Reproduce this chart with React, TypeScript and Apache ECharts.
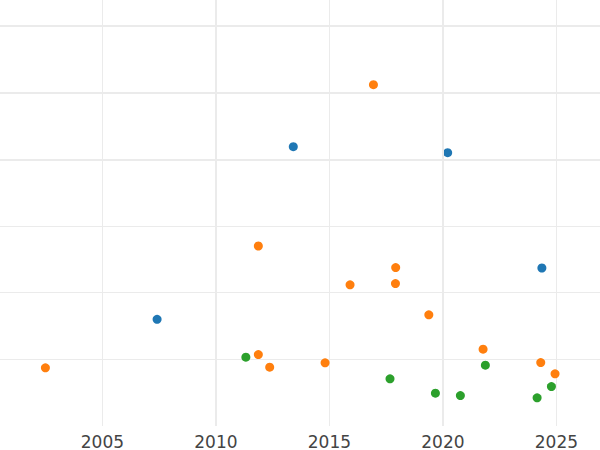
import React, { useEffect, useRef } from "react";
import * as echarts from "echarts";

const blueSeries: [number, number][] = [
  [2013.41, 4.19],
  [2020.21, 4.1],
  [2007.41, 1.6],
  [2024.36, 2.37],
];

const orangeSeries: [number, number][] = [
  [2016.94, 5.12],
  [2011.87, 2.7],
  [2002.49, 0.873],
  [2011.87, 1.072],
  [2012.37, 0.882],
  [2014.81, 0.948],
  [2015.91, 2.118],
  [2017.92, 2.377],
  [2017.91, 2.137],
  [2019.38, 1.668],
  [2021.77, 1.152],
  [2024.31, 0.952],
  [2024.94, 0.783],
];

const greenSeries: [number, number][] = [
  [2011.32, 1.032],
  [2017.67, 0.708],
  [2019.67, 0.492],
  [2020.77, 0.457],
  [2021.87, 0.912],
  [2024.15, 0.423],
  [2024.78, 0.592],
];

const majorGridYears = [2010, 2020];
const majorGridValues = [4, 5, 6];

const X_MIN = 2000.49;
const X_MAX = 2026.92;
const Y_MIN = 0;
const Y_MAX = 6.39;

const GRID_COLOR = "#ebebeb";

export default function App() {
  const ref = useRef<HTMLDivElement>(null);

  useEffect(() => {
    if (!ref.current) return;
    const chart = echarts.init(ref.current, undefined, { renderer: "svg" });
    const dot = (name: string, color: string, data: [number, number][]) => ({
      name,
      type: "scatter",
      data,
      symbol: "circle",
      symbolSize: 9,
      itemStyle: { color, opacity: 1 },
      z: 3,
    });
    chart.setOption({
      animation: false,
      backgroundColor: "#ffffff",
      grid: { left: 0, right: 0, top: 0, bottom: 24, containLabel: false },
      xAxis: {
        type: "value",
        min: X_MIN,
        max: X_MAX,
        splitNumber: 5,
        axisLine: { show: false },
        axisTick: { show: false },
        axisLabel: {
          show: true,
          showMinLabel: false,
          showMaxLabel: false,
          color: "#444444",
          fontFamily: "DejaVu Sans",
          fontSize: 17,
          margin: 7,
          formatter: (v: number) => String(Math.round(v)),
        },
        splitLine: {
          show: true,
          showMinLine: false,
          showMaxLine: false,
          lineStyle: { color: GRID_COLOR, width: 1 },
        },
      },
      yAxis: {
        type: "value",
        min: Y_MIN,
        max: Y_MAX,
        interval: 1,
        axisLine: { show: false },
        axisTick: { show: false },
        axisLabel: { show: false },
        splitLine: {
          show: true,
          showMinLine: false,
          showMaxLine: false,
          lineStyle: { color: GRID_COLOR, width: 1 },
        },
      },
      series: [
        {
          name: "grid",
          type: "scatter",
          data: [],
          silent: true,
          z: 1,
          markLine: {
            silent: true,
            symbol: "none",
            label: { show: false },
            lineStyle: { color: GRID_COLOR, width: 2, type: "solid" },
            emphasis: { disabled: true },
            data: [
              ...majorGridYears.map((x) => ({ xAxis: x })),
              ...majorGridValues.map((y) => ({ yAxis: y })),
            ],
          },
        },
        dot("blue", "#1f77b4", blueSeries),
        dot("orange", "#ff7f0e", orangeSeries),
        dot("green", "#2ca02c", greenSeries),
      ],
    });
    return () => chart.dispose();
  }, []);

  return (
    <div
      ref={ref}
      style={{ position: "fixed", left: 0, top: 0, width: 600, height: 450 }}
    />
  );
}
